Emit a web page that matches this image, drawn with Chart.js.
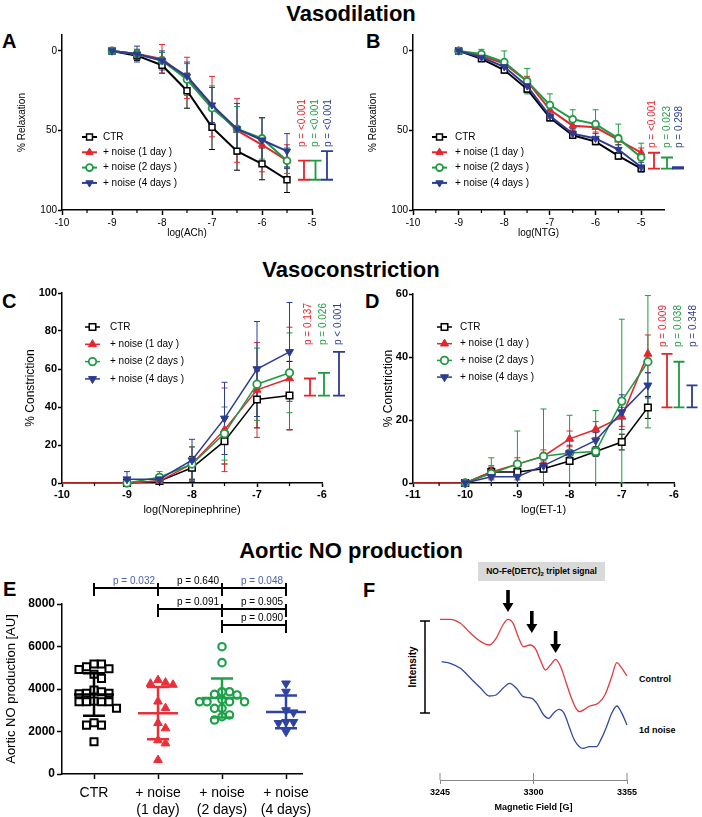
<!DOCTYPE html>
<html>
<head>
<meta charset="utf-8">
<title>Vasodilation / Vasoconstriction / Aortic NO production</title>
<script src="https://cdn.jsdelivr.net/npm/chart.js@4.4.1/dist/chart.umd.min.js"></script>
<style>
  html,body{margin:0;padding:0;background:#fff;}
  body{position:relative;width:702px;height:817px;overflow:hidden;font-family:"Liberation Sans",Arial,Helvetica,sans-serif;color:#000;}
  canvas{position:absolute;}
  .txt{position:absolute;white-space:nowrap;line-height:1;}
  .sec{font-size:22px;font-weight:bold;transform:translate(-50%,-50%);}
  .pl{font-size:20px;font-weight:bold;transform:translateY(-50%);}
  .f9{font-size:9px;font-weight:bold;transform:translateY(-50%);}
</style>
</head>
<body>
<div class="txt sec" style="left:351px;top:14px">Vasodilation</div>
<div class="txt sec" style="left:351px;top:270px">Vasoconstriction</div>
<div class="txt sec" style="left:351px;top:551px">Aortic NO production</div>
<div class="txt pl" style="left:2px;top:41px">A</div>
<div class="txt pl" style="left:366px;top:41px">B</div>
<div class="txt pl" style="left:2px;top:301px">C</div>
<div class="txt pl" style="left:365px;top:301px">D</div>
<div class="txt pl" style="left:3px;top:589px">E</div>
<div class="txt pl" style="left:363px;top:590px">F</div>
<div class="txt" style="left:478px;top:562px;width:127px;height:19px;background:#d9d9d9;font-size:8.5px;font-weight:bold;text-align:center;line-height:19px;">NO-Fe(DETC)<span style="font-size:6px;vertical-align:-2px">2</span> triplet signal</div>
<div class="txt f9" style="left:639px;top:679px">Control</div>
<div class="txt f9" style="left:639px;top:730px">1d noise</div>
<div class="txt" style="left:413px;top:667px;font-size:10px;font-weight:bold;transform:translate(-50%,-50%) rotate(-90deg);">Intensity</div>

<script>
// ================= DATA =================
const SERIES_LABELS = ['CTR', '+ noise (1 day )', '+ noise (2 days )', '+ noise (4 days )'];

// A: ACh relaxation
const ACH_DOSE = [-9, -8.5, -8, -7.5, -7, -6.5, -6, -5.5];
const ACH_CTR = [0, 3, 9, 25, 48, 63, 71, 81];
const ACH_CTR_SD = [0, 3, 5, 11, 14, 12, 10, 8];
const ACH_1D = [0, 2, 5, 17, 35, 50, 59, 69];
const ACH_1D_SD = [0, 3, 9, 13, 19, 20, 17, 10];
const ACH_2D = [0, 2, 6, 18, 36, 49, 55, 69];
const ACH_2D_SD = [0, 3, 5, 10, 14, 14, 13, 8];
const ACH_4D = [0, 2, 6, 16, 34, 49, 56, 63];
const ACH_4D_SD = [0, 5, 6, 9, 11, 16, 14, 11];
const ACH_P = ['p = <0.001', 'p = <0.001', 'p = <0.001'];

// B: NTG relaxation
const NTG_DOSE = [-9, -8.5, -8, -7.5, -7, -6.5, -6, -5.5, -5];
const NTG_CTR = [0, 5, 12, 24, 42, 53, 57, 66, 74];
const NTG_CTR_SD = [0, 1, 2, 2, 2, 2, 2, 2, 2];
const NTG_1D = [0, 3, 8, 19, 37, 47, 48, 56, 64];
const NTG_1D_SD = [0, 1, 2, 3, 3, 3, 3, 3, 3];
const NTG_2D = [0, 2, 7, 19, 34, 43, 46, 55, 67];
const NTG_2D_SD = [0, 3, 7, 8, 7, 6, 9, 9, 9];
const NTG_4D = [0, 4, 10, 22, 41, 52, 55, 62, 73];
const NTG_4D_SD = [0, 1, 2, 2, 2, 3, 3, 3, 3];
const NTG_P = ['p = <0.001', 'p = 0.023', 'p = 0.298'];

const RELAX_XTICKS = [-10, -9, -8, -7, -6, -5];
const RELAX_YTICKS = [0, 50, 100];

// C: Norepinephrine constriction
const NE_DOSE = [-9, -8.5, -8, -7.5, -7, -6.5];
const NE_DOSE_1D = [-10, -9, -8.5, -8, -7.5, -7, -6.5];
const NE_CTR = [0, 1, 8, 22, 44, 46];
const NE_CTR_SD = [0.5, 1, 6, 12, 15, 18];
const NE_1D = [0, 0, 1, 10, 28, 49, 55];
const NE_1D_SD = [0, 1, 1, 9, 22, 25, 27];
const NE_2D = [0, 3, 10, 26, 52, 58];
const NE_2D_SD = [1, 3, 9, 14, 19, 21];
const NE_4D = [2, 2, 12, 34, 60, 69];
const NE_4D_SD = [4, 1, 11, 19, 25, 26];
const NE_P = ['p = 0.137', 'p = 0.026', 'p < 0.001'];
const NE_XTICKS = [-10, -9, -8, -7, -6];
const NE_YTICKS = [0, 20, 40, 60, 80, 100];

// D: ET-1 constriction
const ET_DOSE = [-10, -9.5, -9, -8.5, -8, -7.5, -7, -6.5];
const ET_DOSE_1D = [-11, -10, -9.5, -9, -8.5, -8, -7.5, -7, -6.5];
const ET_CTR = [0, 3.5, 3.5, 4.5, 7, 10, 13, 24];
const ET_CTR_SD = [0, 1.5, 1, 1, 1, 1.5, 2.5, 3.5];
const ET_1D = [0, 0, 3.5, 6, 8.5, 14, 17, 21, 41];
const ET_1D_SD = [0, 0, 2, 2, 2, 2.5, 2.5, 3, 6];
const ET_2D = [0, 3, 6, 8.5, 9.5, 10, 26, 38.5];
const ET_2D_SD = [0, 5, 10.5, 15, 12, 13, 26, 21];
const ET_4D = [0, 2, 2, 5.5, 9.5, 13.5, 22.5, 31];
const ET_4D_SD = [0, 1, 1, 1.5, 2.5, 2.5, 5.5, 4];
const ET_P = ['p = 0.009', 'p = 0.038', 'p = 0.348'];
const ET_XTICKS = [-11, -10, -9, -8, -7, -6];
const ET_YTICKS = [0, 20, 40, 60];

// E: Aortic NO production
const NO_GROUPS = ['CTR', '+ noise\n(1 day)', '+ noise\n(2 days)', '+ noise\n(4 days)'];
const NO_CTR = [5180, 4920, 4950, 5050, 5180, 4690, 4500, 3950, 3800, 3780, 3800, 3870, 3430, 3400, 3400, 3400, 3400, 3090, 2300, 2300, 2410, 1520];
const NO_1D = [4420, 4250, 4200, 4300, 3410, 3100, 2400, 2150, 1590, 1440, 660];
const NO_2D = [5990, 5240, 3870, 3720, 3750, 3870, 3400, 3400, 3500, 3400, 3400, 3090, 3090, 2780, 2540, 2700];
const NO_4D = [4260, 3870, 3000, 2900, 2450, 2400, 2450, 1990];
const NO_MEAN = [3740, 2860, 3580, 2920];
const NO_SD = [1000, 1230, 920, 770];
const NO_YTICKS = [0, 2000, 4000, 6000, 8000];
const NO_TEST_FROM = [0, 1, 2, 1, 2, 2];
const NO_TEST_TO = [1, 2, 3, 2, 3, 3];
const NO_TEST_P = ['p = 0.032', 'p = 0.640', 'p = 0.048', 'p = 0.091', 'p = 0.905', 'p = 0.090'];
const NO_TEST_ROW = [0, 0, 0, 1, 1, 2];

// F: EPR spectra (field in G, intensity in arbitrary units)
const EPR_FIELD_CTRL = [3245, 3251, 3257, 3263, 3269, 3274, 3278, 3282, 3285, 3288, 3291, 3294, 3298, 3301, 3304, 3307, 3310, 3313, 3316, 3319, 3322, 3325, 3327, 3330, 3333, 3338, 3342, 3346, 3349, 3352, 3355];
const EPR_CTRL = [40.2, 40.2, 39, 36, 33.5, 32.5, 34.5, 38.5, 40.2, 39, 35, 32, 32.5, 31.5, 28, 25, 26.5, 28.2, 26, 21.5, 17, 13.5, 12.5, 13.2, 14.2, 15, 17.5, 23, 27.2, 25.5, 23.2];
const EPR_FIELD_NOISE = [3246, 3251, 3257, 3263, 3269, 3274, 3278, 3282, 3286, 3290, 3294, 3299, 3302, 3306, 3309, 3312, 3315, 3318, 3321, 3324, 3327, 3329, 3333, 3337, 3340, 3343, 3346, 3349, 3352, 3355];
const EPR_NOISE = [27.5, 27, 25.5, 22.5, 19.5, 17.2, 17.5, 19.5, 21, 19.5, 17, 16.5, 15, 11.5, 10.5, 12.2, 13.2, 12, 8, 4, 2, 1.5, 2, 2, 4.5, 8, 12, 14.2, 12, 8.5];
const EPR_XTICKS = [3245, 3300, 3355];
const EPR_ARROW_FIELD = [3285, 3299, 3313];
const EPR_ARROW_TIP = [42.4, 36.1, 30.1];

// ================= STYLE =================
const FONT = '"Liberation Sans", Arial, Helvetica, sans-serif';
Chart.defaults.font.family = FONT;
Chart.defaults.color = '#000';
Chart.defaults.animation = false;

const COL = ['#000000', '#e3262d', '#1f9a42', '#2c3c92'];
const PT_STYLE = ['rect', 'triangle', 'circle', 'triangle'];
const PT_ROT = [0, 0, 0, 180];
const PT_FILL = ['#ffffff', COL[1], '#ffffff', COL[3]];
const PT_BW = [1.5, 1, 1.8, 1];
const PT_R = [4.2, 4.2, 3.4, 4.2];
const NO_COL = ['#000000', '#e8303a', '#1fa049', '#2f43a0'];

function makeCanvas(left, top, w, h) {
  const c = document.createElement('canvas');
  c.width = w; c.height = h;
  c.style.left = left + 'px'; c.style.top = top + 'px';
  c.style.width = w + 'px'; c.style.height = h + 'px';
  document.body.appendChild(c);
  return c;
}

function drawMarker(ctx, style, x, y, r, rot, fill, stroke, lw) {
  ctx.save();
  ctx.translate(x, y);
  ctx.rotate(rot * Math.PI / 180);
  ctx.beginPath();
  if (style === 'rect') {
    const s = r * Math.SQRT1_2;
    ctx.rect(-s, -s, 2 * s, 2 * s);
  } else if (style === 'triangle') {
    ctx.moveTo(0, -r);
    ctx.lineTo(r * 0.866, r * 0.5);
    ctx.lineTo(-r * 0.866, r * 0.5);
    ctx.closePath();
  } else {
    ctx.arc(0, 0, r, 0, Math.PI * 2);
  }
  ctx.fillStyle = fill; ctx.fill();
  ctx.lineWidth = lw; ctx.strokeStyle = stroke; ctx.stroke();
  ctx.restore();
}

// ================= PLUGINS =================
const errorBars = {
  id: 'errorBars',
  beforeDatasetsDraw(chart, args, o) {
    if (!o.on) return;
    const ctx = chart.ctx, ca = chart.chartArea, xs = chart.scales.x, ys = chart.scales.y;
    ctx.save();
    ctx.beginPath();
    ctx.rect(ca.left - 12, ca.top - 40, ca.right - ca.left + 24, ca.bottom - ca.top + 40);
    ctx.clip();
    chart.data.datasets.forEach(ds => {
      if (!ds.sd) return;
      ctx.strokeStyle = ds.borderColor;
      ctx.lineWidth = o.lw;
      ds.data.forEach((p, j) => {
        const e = ds.sd[j];
        if (!e) return;
        const px = xs.getPixelForValue(p.x);
        const y1 = ys.getPixelForValue(p.y - e), y2 = ys.getPixelForValue(p.y + e);
        ctx.beginPath();
        ctx.moveTo(px, y1); ctx.lineTo(px, y2);
        ctx.moveTo(px - o.cap, y1); ctx.lineTo(px + o.cap, y1);
        ctx.moveTo(px - o.cap, y2); ctx.lineTo(px + o.cap, y2);
        ctx.stroke();
      });
    });
    ctx.restore();
  }
};

const pBrackets = {
  id: 'pBrackets',
  afterDatasetsDraw(chart, args, o) {
    if (!o.cx) return;
    const ctx = chart.ctx, ys = chart.scales.y, dss = chart.data.datasets;
    const ref = dss[0].data[dss[0].data.length - 1].y;
    const y0 = ys.getPixelForValue(ref);
    for (let k = 0; k < o.cx.length; k++) {
      const d = dss[k + 1];
      const y1 = ys.getPixelForValue(d.data[d.data.length - 1].y);
      const cx = o.cx[k], h = o.half;
      ctx.save();
      ctx.strokeStyle = d.borderColor; ctx.lineWidth = o.lw;
      ctx.beginPath();
      ctx.moveTo(cx, y0); ctx.lineTo(cx, y1);
      ctx.moveTo(cx - h, y0); ctx.lineTo(cx + h, y0);
      ctx.moveTo(cx - h, y1); ctx.lineTo(cx + h, y1);
      ctx.stroke();
      ctx.translate(o.tx[k], o.textBottom);
      ctx.rotate(-Math.PI / 2);
      ctx.fillStyle = d.borderColor;
      ctx.font = o.pfont;
      ctx.textAlign = 'left'; ctx.textBaseline = 'middle';
      ctx.fillText(o.texts[k], 0, 0);
      ctx.restore();
    }
  }
};

const miniLegend = {
  id: 'miniLegend',
  afterDraw(chart, args, o) {
    if (o.x1 === undefined) return;
    const ctx = chart.ctx;
    chart.data.datasets.forEach((d, i) => {
      const y = o.y0 + i * o.dy;
      ctx.save();
      ctx.strokeStyle = d.borderColor; ctx.lineWidth = d.borderWidth;
      ctx.beginPath(); ctx.moveTo(o.x1, y); ctx.lineTo(o.x2, y); ctx.stroke();
      drawMarker(ctx, PT_STYLE[i], (o.x1 + o.x2) / 2, y, PT_R[i] * o.ps, PT_ROT[i], PT_FILL[i], COL[i], PT_BW[i]);
      ctx.fillStyle = '#000'; ctx.font = o.lfont;
      ctx.textAlign = 'left'; ctx.textBaseline = 'middle';
      ctx.fillText(d.label, o.tx, y);
      ctx.restore();
    });
  }
};

const minorTicks = {
  id: 'minorTicks',
  afterDraw(chart, args, o) {
    if (!o.step) return;
    const xs = chart.scales.x, ctx = chart.ctx, b = chart.chartArea.bottom;
    ctx.save(); ctx.strokeStyle = '#000'; ctx.lineWidth = o.lw;
    for (let v = xs.min + o.step; v < xs.max - 1e-6; v += 2 * o.step) {
      const px = xs.getPixelForValue(v);
      ctx.beginPath(); ctx.moveTo(px, b); ctx.lineTo(px, b + o.len); ctx.stroke();
    }
    ctx.restore();
  }
};

const dotStats = {
  id: 'dotStats',
  afterDatasetsDraw(chart, args, o) {
    if (!o.on) return;
    const ctx = chart.ctx, xs = chart.scales.x, ys = chart.scales.y;
    ctx.save();
    ctx.lineWidth = 2.5;
    NO_MEAN.forEach((m, i) => {
      const cx = xs.getPixelForValue(i);
      const ym = ys.getPixelForValue(m), ya = ys.getPixelForValue(m + NO_SD[i]), yb = ys.getPixelForValue(m - NO_SD[i]);
      ctx.strokeStyle = NO_COL[i];
      ctx.beginPath();
      ctx.moveTo(cx - o.meanHalf, ym); ctx.lineTo(cx + o.meanHalf, ym);
      ctx.moveTo(cx, ya); ctx.lineTo(cx, yb);
      ctx.moveTo(cx - o.capHalf, ya); ctx.lineTo(cx + o.capHalf, ya);
      ctx.moveTo(cx - o.capHalf, yb); ctx.lineTo(cx + o.capHalf, yb);
      ctx.stroke();
    });
    ctx.lineWidth = 2; ctx.strokeStyle = '#000';
    ctx.font = '10px ' + FONT;
    ctx.textAlign = 'right'; ctx.textBaseline = 'alphabetic';
    NO_TEST_P.forEach((t, k) => {
      const xa = xs.getPixelForValue(NO_TEST_FROM[k]), xb = xs.getPixelForValue(NO_TEST_TO[k]);
      const y = o.rows[NO_TEST_ROW[k]];
      ctx.beginPath();
      ctx.moveTo(xa, y); ctx.lineTo(xb, y);
      ctx.moveTo(xa, y - 5); ctx.lineTo(xa, y + 8);
      ctx.moveTo(xb, y - 5); ctx.lineTo(xb, y + 8);
      ctx.stroke();
      const pv = parseFloat(t.replace(/[^0-9.]/g, ''));
      ctx.fillStyle = pv < 0.05 ? '#4a5fb0' : '#000';
      ctx.fillText(t, xb - 3, y - 4);
    });
    ctx.restore();
  }
};

const eprDecor = {
  id: 'eprDecor',
  afterDraw(chart, args, o) {
    if (!o.on) return;
    const ctx = chart.ctx, xs = chart.scales.x, ys = chart.scales.y, b = chart.chartArea.bottom;
    ctx.save();
    ctx.strokeStyle = '#8a8a8a'; ctx.lineWidth = 1;
    EPR_XTICKS.forEach(v => {
      const px = xs.getPixelForValue(v);
      ctx.beginPath(); ctx.moveTo(px, b); ctx.lineTo(px, b - 7); ctx.stroke();
    });
    ctx.strokeStyle = '#000'; ctx.lineWidth = 1.5;
    ctx.beginPath();
    ctx.moveTo(o.barX, o.barTop); ctx.lineTo(o.barX, o.barBottom);
    ctx.moveTo(o.barX - 5, o.barTop); ctx.lineTo(o.barX + 5, o.barTop);
    ctx.moveTo(o.barX - 5, o.barBottom); ctx.lineTo(o.barX + 5, o.barBottom);
    ctx.stroke();
    ctx.fillStyle = '#000';
    EPR_ARROW_FIELD.forEach((f, k) => {
      const px = xs.getPixelForValue(f), tip = ys.getPixelForValue(EPR_ARROW_TIP[k]);
      ctx.fillRect(px - 1.8, tip - 22, 3.6, 14);
      ctx.beginPath();
      ctx.moveTo(px - 5.5, tip - 9); ctx.lineTo(px + 5.5, tip - 9); ctx.lineTo(px, tip);
      ctx.closePath(); ctx.fill();
    });
    ctx.restore();
  }
};

Chart.register(errorBars, pBrackets, miniLegend, minorTicks, dotStats, eprDecor);

// ================= DOSE-RESPONSE PANELS =================
function doseChart(o) {
  const cv = makeCanvas(o.left, o.top, o.w, o.h);
  const datasets = o.series.map((s, i) => ({
    label: SERIES_LABELS[i],
    data: s[0].map((d, j) => ({x: d, y: s[1][j]})),
    sd: s[2],
    borderColor: COL[i],
    backgroundColor: PT_FILL[i],
    borderWidth: o.lw,
    pointStyle: PT_STYLE[i],
    pointRotation: PT_ROT[i],
    pointBackgroundColor: PT_FILL[i],
    pointBorderColor: COL[i],
    pointBorderWidth: PT_BW[i],
    pointRadius: s[0].map((d, j) => (j === 0 && s[3]) ? 0 : PT_R[i] * o.ps),
    pointHoverRadius: 0,
    tension: 0,
    fill: false,
    clip: false,
    order: 4 - i
  }));
  return new Chart(cv, {
    type: 'line',
    data: {datasets},
    options: {
      responsive: false, animation: false, devicePixelRatio: 1,
      events: [],
      layout: {padding: o.pad},
      plugins: {
        legend: {display: false}, tooltip: {enabled: false},
        errorBars: {on: true, lw: 1, cap: 3},
        pBrackets: o.brackets,
        miniLegend: o.legend,
        minorTicks: {step: 0.5, len: 3, lw: 1.2}
      },
      scales: {
        x: {
          type: 'linear', min: o.xmin, max: o.xmax,
          afterBuildTicks: sc => { sc.ticks = o.xticks.map(v => ({value: v})); },
          afterFit: sc => { sc.height = o.hx; },
          ticks: {font: o.tickFont, color: '#000', padding: o.xtp, maxRotation: 0, autoSkip: false, callback: v => String(v)},
          grid: {drawOnChartArea: false, drawTicks: true, tickLength: o.tl, tickColor: '#000', tickWidth: 1.5},
          border: {display: true, color: '#000', width: 1.5},
          title: {display: true, text: o.xtitle, font: o.xtitleFont, color: '#000', padding: {top: 0, bottom: o.xtitlePad}}
        },
        y: {
          type: 'linear', reverse: !!o.reverse, min: o.ymin, max: o.ymax,
          afterBuildTicks: sc => { sc.ticks = o.yticks.map(v => ({value: v})); },
          afterFit: sc => { sc.width = o.wy; },
          ticks: {font: o.tickFont, color: '#000', padding: o.ytp, autoSkip: false, callback: v => String(v)},
          grid: {drawOnChartArea: false, drawTicks: true, tickLength: 4, tickColor: '#000', tickWidth: 1.5},
          border: {display: true, color: '#000', width: 1.5},
          title: {display: true, text: o.ytitle, font: o.ytitleFont, color: '#000', padding: {top: o.ytitlePad, bottom: 0}}
        }
      }
    }
  });
}

const RELAX_COMMON = {
  h: 225, hx: 40, wy: 62, tl: 5, xtp: 2, ytp: 1, lw: 2, ps: 1,
  xmin: -10, ymin: -10, ymax: 100, yticks: RELAX_YTICKS, reverse: true, xticks: RELAX_XTICKS,
  tickFont: {size: 10}, xtitleFont: {size: 10}, ytitleFont: {size: 10}, xtitlePad: 11, ytitlePad: 16
};

doseChart(Object.assign({}, RELAX_COMMON, {
  left: 0, top: 25, w: 350, pad: {left: 0, right: 38, top: 10, bottom: 0},
  xmax: -5, xtitle: 'log(ACh)', ytitle: '% Relaxation',
  series: [[ACH_DOSE, ACH_CTR, ACH_CTR_SD], [ACH_DOSE, ACH_1D, ACH_1D_SD], [ACH_DOSE, ACH_2D, ACH_2D_SD], [ACH_DOSE, ACH_4D, ACH_4D_SD]],
  brackets: {cx: [304, 315.5, 327], tx: [302, 315, 328], half: 6, lw: 1.8, textBottom: 122, texts: ACH_P, pfont: '10px ' + FONT},
  legend: {x1: 82, x2: 97, tx: 103, y0: 112, dy: 15.3, ps: 1, lfont: '10px ' + FONT}
}));

doseChart(Object.assign({}, RELAX_COMMON, {
  left: 350, top: 25, w: 352, pad: {left: 1, right: 38, top: 10, bottom: 0},
  xmax: -4.5, xtitle: 'log(NTG)', ytitle: '% Relaxation',
  series: [[NTG_DOSE, NTG_CTR, NTG_CTR_SD], [NTG_DOSE, NTG_1D, NTG_1D_SD], [NTG_DOSE, NTG_2D, NTG_2D_SD], [NTG_DOSE, NTG_4D, NTG_4D_SD]],
  brackets: {cx: [304, 317, 328], tx: [302, 317, 329], half: 6, lw: 1.8, textBottom: 123, texts: NTG_P, pfont: '10px ' + FONT},
  legend: {x1: 82, x2: 97, tx: 105, y0: 112, dy: 15.3, ps: 1, lfont: '10px ' + FONT}
}));

const CONS_COMMON = {
  h: 240, hx: 42, wy: 62, tl: 4, xtp: 1, ytp: 1, lw: 1.5, ps: 1.1, ymin: 0,
  tickFont: {size: 11, weight: 'bold'}, xtitleFont: {size: 11}, ytitleFont: {size: 12}, xtitlePad: 8
};

doseChart(Object.assign({}, CONS_COMMON, {
  left: 0, top: 285, w: 350, pad: {left: 0, right: 28, top: 8, bottom: 0},
  xmin: -10, xmax: -6, xticks: NE_XTICKS, ymax: 100, yticks: NE_YTICKS,
  xtitle: 'log(Norepinephrine)', ytitle: '% Constriction', ytitlePad: 23,
  series: [[NE_DOSE, NE_CTR, NE_CTR_SD], [NE_DOSE_1D, NE_1D, NE_1D_SD, true], [NE_DOSE, NE_2D, NE_2D_SD], [NE_DOSE, NE_4D, NE_4D_SD]],
  brackets: {cx: [310, 324, 339], tx: [308, 323, 338], half: 6, lw: 1.8, textBottom: 60, texts: NE_P, pfont: '10px ' + FONT},
  legend: {x1: 85, x2: 100, tx: 110, y0: 42, dy: 17.3, ps: 1.1, lfont: '10px ' + FONT}
}));

doseChart(Object.assign({}, CONS_COMMON, {
  left: 350, top: 285, w: 352, pad: {left: 1, right: 28, top: 9, bottom: 0},
  xmin: -11, xmax: -6, xticks: ET_XTICKS, ymax: 60, yticks: ET_YTICKS,
  xtitle: 'log(ET-1)', ytitle: '% Constriction', ytitlePad: 30,
  series: [[ET_DOSE, ET_CTR, ET_CTR_SD], [ET_DOSE_1D, ET_1D, ET_1D_SD, true], [ET_DOSE, ET_2D, ET_2D_SD], [ET_DOSE, ET_4D, ET_4D_SD]],
  brackets: {cx: [317, 329, 342], tx: [313, 328, 343], half: 5.5, lw: 1.8, textBottom: 62, texts: ET_P, pfont: '10px ' + FONT},
  legend: {x1: 87, x2: 102, tx: 110, y0: 42, dy: 16.7, ps: 1.1, lfont: '10px ' + FONT}
}));

// ================= E: scatter dot plot =================
function swarm(values, center) {
  const pyPerUnit = 170 / 8000, pxPerCat = 64, d = 7.5;
  const placed = [];
  const out = new Array(values.length);
  const order = values.map((v, i) => i).sort((a, b) => values[b] - values[a]);
  order.forEach(i => {
    const vy = values[i] * pyPerUnit;
    let k = 0, dx = 0;
    while (true) {
      const cand = k === 0 ? 0 : (k % 2 ? 1 : -1) * Math.ceil(k / 2) * d;
      if (placed.every(p => Math.hypot(p.x - cand, p.y - vy) >= d)) { dx = cand; break; }
      k++;
    }
    placed.push({x: dx, y: vy});
    out[i] = {x: center + dx / pxPerCat, y: values[i]};
  });
  return out;
}

(function () {
  const cv = makeCanvas(0, 570, 350, 247);
  const styles = ['rect', 'triangle', 'circle', 'triangle'];
  const radius = [5, 5, 3.7, 5];
  const fills = ['#ffffff', NO_COL[1], '#ffffff', NO_COL[3]];
  const bws = [2, 1, 2.2, 1];
  const rots = [0, 0, 0, 180];
  const datasets = [NO_CTR, NO_1D, NO_2D, NO_4D].map((vals, i) => ({
    label: NO_GROUPS[i],
    data: swarm(vals, i),
    showLine: false,
    pointStyle: styles[i], pointRadius: radius[i], pointHoverRadius: 0,
    pointRotation: rots[i],
    pointBackgroundColor: fills[i], pointBorderColor: NO_COL[i], pointBorderWidth: bws[i],
    clip: false
  }));
  new Chart(cv, {
    type: 'scatter',
    data: {datasets},
    options: {
      responsive: false, animation: false, devicePixelRatio: 1, events: [],
      layout: {padding: {left: 0, right: 48, top: 34, bottom: 0}},
      plugins: {legend: {display: false}, tooltip: {enabled: false}, dotStats: {on: true, meanHalf: 20, capHalf: 11, rows: [18, 39, 55]}},
      scales: {
        x: {
          type: 'linear', min: -0.5, max: 3.25,
          afterBuildTicks: sc => { sc.ticks = NO_GROUPS.map((g, i) => ({value: i})); },
          afterFit: sc => { sc.height = 43; },
          ticks: {font: {size: 14}, color: '#000', padding: 6, maxRotation: 0, autoSkip: false, callback: v => NO_GROUPS[v].split('\n')},
          grid: {drawOnChartArea: false, drawTicks: true, tickLength: 5, tickColor: '#000', tickWidth: 1.5},
          border: {display: true, color: '#000', width: 1.5}
        },
        y: {
          type: 'linear', min: 0, max: 8000,
          afterBuildTicks: sc => { sc.ticks = NO_YTICKS.map(v => ({value: v})); },
          afterFit: sc => { sc.width = 62; },
          ticks: {font: {size: 12, weight: 'bold'}, color: '#000', padding: 2, autoSkip: false, callback: v => String(v)},
          grid: {drawOnChartArea: false, drawTicks: true, tickLength: 5, tickColor: '#000', tickWidth: 1.5},
          border: {display: true, color: '#000', width: 1.5},
          title: {display: true, text: 'Aortic NO production [AU]', font: {size: 13}, color: '#000', padding: {top: 4, bottom: 0}}
        }
      }
    }
  });
})();

// ================= F: EPR spectra =================
(function () {
  const cv = makeCanvas(350, 580, 352, 237);
  new Chart(cv, {
    type: 'line',
    data: {
      datasets: [
        {label: 'Control', data: EPR_FIELD_CTRL.map((f, i) => ({x: f, y: EPR_CTRL[i]})), borderColor: '#e23a40', borderWidth: 1.3, pointRadius: 0, cubicInterpolationMode: 'monotone', clip: false, fill: false},
        {label: '1d noise', data: EPR_FIELD_NOISE.map((f, i) => ({x: f, y: EPR_NOISE[i]})), borderColor: '#33489e', borderWidth: 1.3, pointRadius: 0, cubicInterpolationMode: 'monotone', clip: false, fill: false}
      ]
    },
    options: {
      responsive: false, animation: false, devicePixelRatio: 1, events: [],
      layout: {padding: {left: 90, right: 75, top: 40, bottom: 0}},
      plugins: {legend: {display: false}, tooltip: {enabled: false}, eprDecor: {on: true, barX: 75, barTop: 41, barBottom: 133}},
      scales: {
        x: {
          type: 'linear', min: 3245, max: 3355,
          afterBuildTicks: sc => { sc.ticks = EPR_XTICKS.map(v => ({value: v})); },
          afterFit: sc => { sc.height = 37; },
          ticks: {font: {size: 9, weight: 'bold'}, color: '#000', padding: 3, maxRotation: 0, autoSkip: false, callback: v => String(v)},
          grid: {drawOnChartArea: false, drawTicks: true, tickLength: 4, tickColor: '#8a8a8a', tickWidth: 1},
          border: {display: true, color: '#8a8a8a', width: 1},
          title: {display: true, text: 'Magnetic Field [G]', font: {size: 9, weight: 'bold'}, color: '#000', padding: {top: 0, bottom: 4}}
        },
        y: {type: 'linear', min: -8, max: 40, display: false}
      }
    }
  });
})();
</script>
</body>
</html>
